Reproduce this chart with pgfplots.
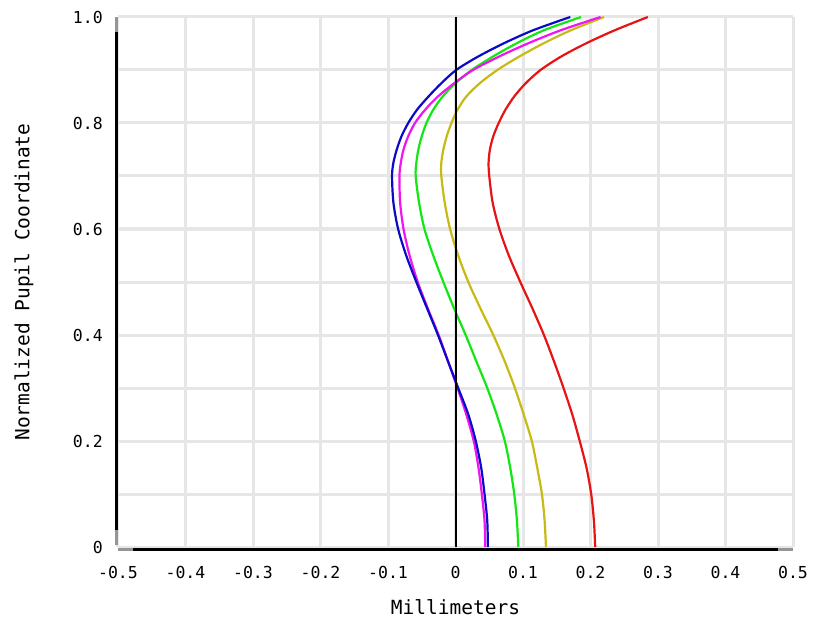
\documentclass[border=0pt]{standalone}
\usepackage{fontspec}
\setmainfont{DejaVu Sans Mono}
\usepackage{pgfplots}
\pgfplotsset{compat=1.18}
\definecolor{gridc}{RGB}{230,230,230}
\definecolor{endc}{RGB}{150,150,150}
\definecolor{cblue}{RGB}{10,10,200}
\definecolor{cmag}{RGB}{240,20,240}
\definecolor{cgreen}{RGB}{20,230,20}
\definecolor{cyel}{RGB}{200,185,20}
\definecolor{cred}{RGB}{230,20,20}
\begin{document}
\begin{tikzpicture}
\useasboundingbox (-118pt,-80pt) rectangle (695pt,547pt);
\begin{axis}[
  at={(0,0)}, anchor=south west,
  scale only axis, width=675pt, height=530pt,
  xmin=-0.5, xmax=0.5, ymin=0, ymax=1,
  clip=false,
  xtick={-0.5,-0.4,-0.3,-0.2,-0.1,0,0.1,0.2,0.3,0.4,0.5},
  xticklabels={-0.5,-0.4,-0.3,-0.2,-0.1,0,0.1,0.2,0.3,0.4,0.5},
  ytick={0,0.2,0.4,0.6,0.8,1.0},
  yticklabels={0,0.2,0.4,0.6,0.8,1.0},
  minor ytick={0.1,0.3,0.5,0.7,0.9},
  grid=both,
  major grid style={draw=gridc, line width=3pt},
  minor grid style={draw=gridc, line width=3pt},
  major tick length=0pt, minor tick length=0pt,
  tick style={draw=none},
  axis line style={draw=none},
  xticklabel style={font=\fontsize{16.5}{19}\selectfont, inner sep=0pt, anchor=north, yshift=-19pt},
  yticklabel style={font=\fontsize{16.5}{19}\selectfont, inner sep=0pt, anchor=east, xshift=-15pt},
  xlabel={Millimeters},
  ylabel={Normalized Pupil Coordinate},
  xlabel style={font=\fontsize{19.5}{23}\selectfont, at={(axis description cs:0.5,0)}, anchor=center, yshift=-60pt},
  ylabel style={font=\fontsize{19.5}{23}\selectfont, at={(axis description cs:0,0.5)}, anchor=center, rotate=0, yshift=94pt},
]
% red
\addplot[cred, line width=2.2pt, smooth] coordinates {
(0.207,0) (0.205,0.05) (0.201,0.1) (0.194,0.15) (0.184,0.2) (0.173,0.25) (0.160,0.3) (0.146,0.35) (0.131,0.4) (0.114,0.45) (0.096,0.5) (0.079,0.55) (0.065,0.6) (0.055,0.65) (0.050,0.7) (0.049,0.725) (0.051,0.75) (0.056,0.775) (0.064,0.8) (0.074,0.825) (0.087,0.85) (0.104,0.875) (0.126,0.9) (0.156,0.925) (0.193,0.95) (0.236,0.975) (0.285,1.0)};
% yellow
\addplot[cyel, line width=2.2pt, smooth] coordinates {
(0.134,0) (0.132,0.05) (0.128,0.1) (0.121,0.15) (0.113,0.2) (0.101,0.25) (0.088,0.3) (0.073,0.35) (0.056,0.4) (0.037,0.45) (0.019,0.5) (0.004,0.55) (-0.008,0.6) (-0.016,0.65) (-0.021,0.7) (-0.021,0.725) (-0.018,0.75) (-0.013,0.775) (-0.006,0.8) (0.003,0.825) (0.016,0.85) (0.036,0.875) (0.062,0.9) (0.094,0.925) (0.130,0.95) (0.171,0.975) (0.220,1.0)};
% green
\addplot[cgreen, line width=2.2pt, smooth] coordinates {
(0.093,0) (0.091,0.05) (0.087,0.1) (0.081,0.15) (0.073,0.2) (0.061,0.25) (0.047,0.3) (0.031,0.35) (0.015,0.4) (-0.002,0.45) (-0.018,0.5) (-0.033,0.55) (-0.046,0.6) (-0.054,0.65) (-0.059,0.7) (-0.058,0.725) (-0.055,0.75) (-0.050,0.775) (-0.043,0.8) (-0.033,0.825) (-0.019,0.85) (0.000,0.875) (0.024,0.9) (0.055,0.925) (0.090,0.95) (0.131,0.975) (0.186,1.0)};
% magenta
\addplot[cmag, line width=2.2pt, smooth] coordinates {
(0.044,0) (0.043,0.05) (0.039,0.1) (0.034,0.15) (0.027,0.2) (0.016,0.25) (0.003,0.3) (-0.011,0.35) (-0.025,0.4) (-0.041,0.45) (-0.056,0.5) (-0.068,0.55) (-0.077,0.6) (-0.082,0.65) (-0.083,0.7) (-0.081,0.725) (-0.077,0.75) (-0.070,0.775) (-0.060,0.8) (-0.045,0.825) (-0.026,0.85) (-0.002,0.875) (0.026,0.9) (0.064,0.925) (0.107,0.95) (0.156,0.975) (0.215,1.0)};
% blue
\addplot[cblue, line width=2.2pt, smooth] coordinates {
(0.048,0) (0.047,0.05) (0.043,0.1) (0.038,0.15) (0.030,0.2) (0.019,0.25) (0.004,0.3) (-0.011,0.35) (-0.026,0.4) (-0.042,0.45) (-0.058,0.5) (-0.073,0.55) (-0.085,0.6) (-0.092,0.65) (-0.094,0.7) (-0.092,0.725) (-0.087,0.75) (-0.080,0.775) (-0.070,0.8) (-0.057,0.825) (-0.040,0.85) (-0.021,0.875) (0.001,0.9) (0.033,0.925) (0.071,0.95) (0.115,0.975) (0.170,1.0)};
% zero line
\draw[black, line width=2pt] (axis cs:0,0) -- (axis cs:0,1);
\end{axis}
% axis frame lines (left and bottom)
\draw[line width=3pt, black] (-2pt,17pt) -- (-2pt,515pt);
\draw[line width=3pt, endc] (-2pt,515pt) -- (-2pt,530pt);
\draw[line width=3pt, endc] (-2pt,2pt) -- (-2pt,17pt);
\draw[line width=3pt, black] (15pt,-2.5pt) -- (660pt,-2.5pt);
\draw[line width=3pt, endc] (0pt,-2.5pt) -- (15pt,-2.5pt);
\draw[line width=3pt, endc] (660pt,-2.5pt) -- (675pt,-2.5pt);
\end{tikzpicture}
\end{document}
